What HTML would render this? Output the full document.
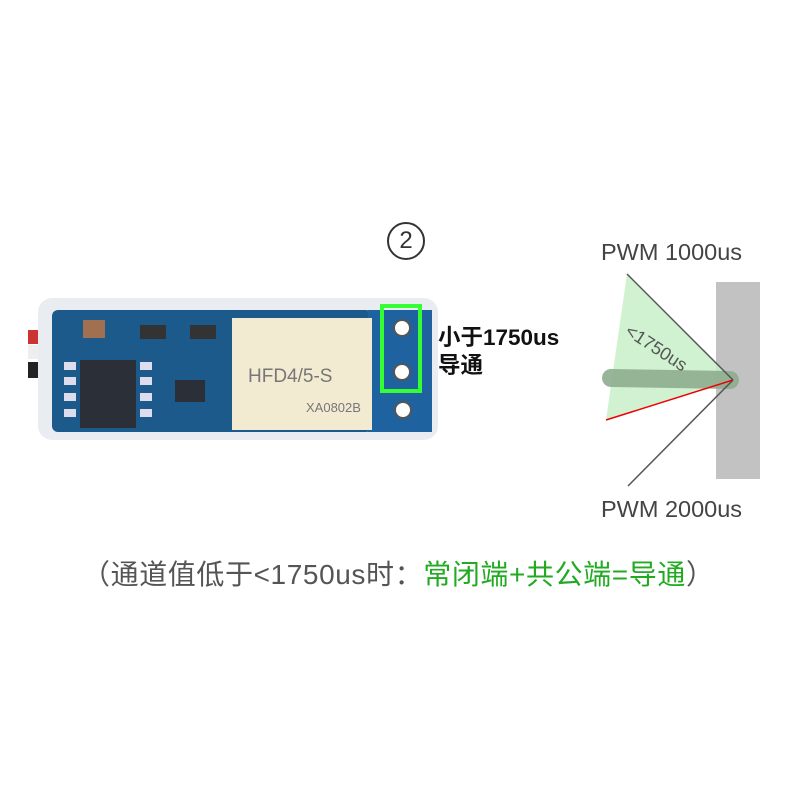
<!DOCTYPE html>
<html><head><meta charset="utf-8"><style>
body{margin:0;width:800px;height:800px;background:#fff;position:relative;overflow:hidden;font-family:"Liberation Sans","Noto Sans CJK SC",sans-serif}
.a{position:absolute}
</style></head><body>
<svg class="a" style="left:0;top:0" width="800" height="800">
  <rect x="28" y="330" width="20" height="14" fill="#c33"/>
  <rect x="28" y="345" width="20" height="14" fill="#eee"/>
  <rect x="28" y="362" width="20" height="16" fill="#222"/>
  <rect x="38" y="298" width="400" height="142" rx="14" fill="#e9edf2"/>
  <rect x="52" y="310" width="320" height="122" rx="6" fill="#1d5a8c"/>
  <rect x="368" y="310" width="64" height="122" fill="#1f62a0"/>
  <rect x="83" y="320" width="22" height="18" fill="#a07050"/>
  <rect x="140" y="325" width="26" height="14" fill="#333"/>
  <rect x="190" y="325" width="26" height="14" fill="#333"/>
  <rect x="80" y="360" width="56" height="68" fill="#2a2f38"/>
  <g fill="#dde"><rect x="64" y="362" width="12" height="8"/><rect x="64" y="377" width="12" height="8"/><rect x="64" y="393" width="12" height="8"/><rect x="64" y="409" width="12" height="8"/>
  <rect x="140" y="362" width="12" height="8"/><rect x="140" y="377" width="12" height="8"/><rect x="140" y="393" width="12" height="8"/><rect x="140" y="409" width="12" height="8"/></g>
  <rect x="175" y="380" width="30" height="22" fill="#2a2f38"/>
  <rect x="232" y="318" width="140" height="112" fill="#f3ead2"/>
  <text x="248" y="382" font-size="19" fill="#777" font-family="Liberation Sans">HFD4/5-S</text>
  <text x="306" y="412" font-size="13" fill="#777" font-family="Liberation Sans">XA0802B</text>
  <g fill="#fff" stroke="#555" stroke-width="2"><circle cx="402" cy="328" r="8"/><circle cx="402" cy="372" r="8"/><circle cx="403" cy="410" r="8"/></g>
  <rect x="382" y="306" width="38" height="85" fill="none" stroke="#3f3" stroke-width="4"/>
  <rect x="716" y="282" width="44" height="197" fill="#c2c2c2"/>
  <polygon points="733,380 627,274 606,420" fill="#c8f0c8" opacity="0.85"/>
  <line x1="611" y1="378" x2="730" y2="380" stroke="#8fae8f" stroke-width="18" stroke-linecap="round" opacity="0.9"/>
  <line x1="627" y1="274" x2="733" y2="380" stroke="#555" stroke-width="1.5"/>
  <line x1="628" y1="486" x2="733" y2="380" stroke="#555" stroke-width="1.5"/>
  <line x1="606" y1="420" x2="733" y2="380" stroke="#e00" stroke-width="1.5"/>
  <text x="624" y="334" font-size="18" fill="#555" transform="rotate(33 624 334)" font-family="Liberation Sans">&lt;1750us</text>
</svg>
<div class="a" style="left:387px;top:222px;width:34px;height:34px;border:2px solid #333;border-radius:50%;text-align:center;line-height:34px;font-size:24px;color:#333">2</div>
<div class="a" style="left:438px;top:324px;font-size:22.5px;font-weight:bold;color:#111;line-height:28px">小于1750us<br>导通</div>
<div class="a" style="left:601px;top:239px;font-size:23.5px;color:#444">PWM 1000us</div>
<div class="a" style="left:601px;top:496px;font-size:23.5px;color:#444">PWM 2000us</div>
<div class="a" style="left:82px;top:553px;font-size:28px;letter-spacing:0.6px;color:#555;white-space:nowrap">（通道值低于&lt;1750us时：<span style="color:#22aa22">常闭端+共公端=导通</span>）</div>
</body></html>
